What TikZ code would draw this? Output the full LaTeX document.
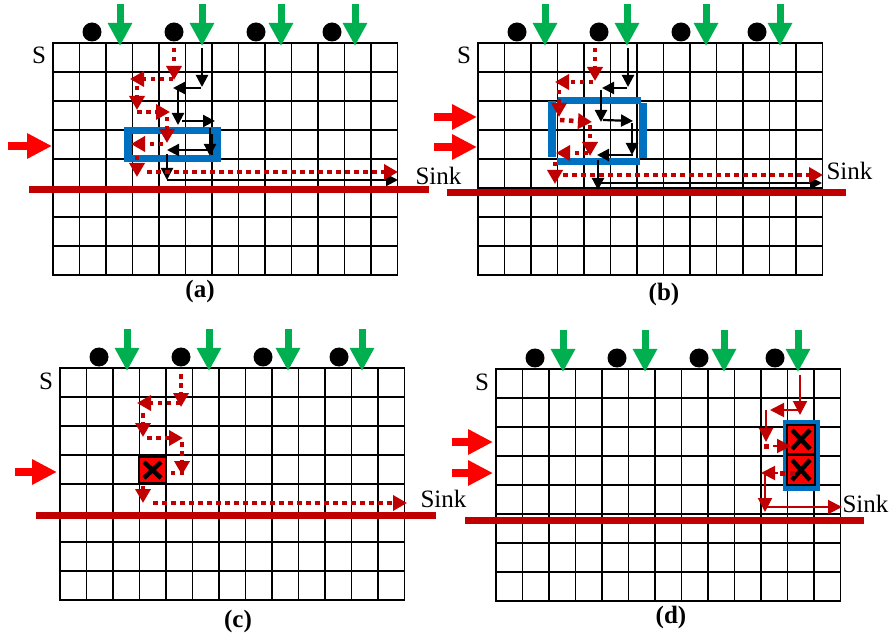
\documentclass[tikz,border=0pt]{standalone}
\usepackage{fontspec}
\setmainfont{Liberation Serif}
\usetikzlibrary{arrows.meta}

\definecolor{sinkred}{HTML}{C00000}
\definecolor{inred}{HTML}{FF0000}
\definecolor{tapgreen}{HTML}{00B050}
\definecolor{boxblue}{HTML}{0070C0}

\begin{document}
\begin{tikzpicture}[
  x=1pt, y=-1pt,
  font=\fontsize{25}{30}\selectfont,
  gridline/.style={line width=1.9pt, line cap=rect},
  sinkbar/.style={sinkred, line width=7pt},
  inarrow/.style={inred, line width=8pt, -{Triangle[width=24pt,length=25pt]}},
  tap/.style={tapgreen, line width=7pt, -{Triangle[width=23pt,length=23pt]}},
  route/.style={line width=2.2pt, -{Triangle[width=12pt,length=12pt]}},
  detour/.style={sinkred, line width=4.5pt, dash pattern=on 4.5pt off 4.5pt,
    -{Triangle[width=15pt,length=14pt]}},
  thinroute/.style={sinkred, line width=2pt, -{Triangle[width=14pt,length=14pt]}},
  blockbox/.style={boxblue, line width=7.5pt},
  fault/.style={fill=inred, draw=black, line width=1.5pt}
]
  \useasboundingbox (0,0) rectangle (889,636);

  % 四个面板的网格、端口与汇点线
  \foreach \gx/\gy in {53/43, 478/43, 60/368, 496/369} {
    \begin{scope}[shift={(\gx,\gy)}]
      \foreach \i in {0,...,13}
        \draw[gridline] ({26.5*\i},0) -- ({26.5*\i},232);
      \foreach \j in {0,...,8}
        \draw[gridline] (0,{29*\j}) -- (344.5,{29*\j});
      % 顶部端口
      \foreach \dx in {39,121,203,279}
        \fill (\dx,-11) circle[radius=9.5pt];
      \foreach \ax in {67,149,228,302}
        \draw[tap] (\ax,-39) -- (\ax,3);
      \node[anchor=base] at (-14,21) {S};
    \end{scope}
  }

  % 汇点线
  \draw[sinkbar] (29,190) -- (429,190);
  \draw[sinkbar] (447,193) -- (846,193);
  \draw[sinkbar] (36,515) -- (436,515);
  \draw[sinkbar] (465,520) -- (864,520);

  % 左侧输入
  \draw[inarrow] (8,146) -- (52,146);
  \draw[inarrow] (434,117) -- (477,117);
  \draw[inarrow] (434,147) -- (477,147);
  \draw[inarrow] (15,472) -- (57,472);
  \draw[inarrow] (452,442) -- (493,442);
  \draw[inarrow] (452,473) -- (493,473);

  % ---- (a) ----
  \draw[blockbox] (128,130.5) rectangle (217,158.5);
  % 黑色路径
  \draw[route] (202,48) -- (202,87);
  \draw[route] (201,88) -- (173,88);
  \draw[route] (178,90) -- (178,125);
  \draw[route] (182,121) -- (215,121);
  \draw[route] (210,128) -- (210,156);
  \draw[route] (210,150) -- (167,150);
  \draw[route] (167,154) -- (167,180);
  \draw[route] (167,180) -- (398,180);
  % 红色虚线路径
  \draw[detour] (174,48) -- (174,80);
  \draw[detour] (173,79) -- (130,79);
  \draw[detour] (137,86) -- (137,110);
  \draw[detour] (137,112) -- (170,112);
  \draw[detour] (167,117) -- (167,143);
  \draw[detour] (163,144) -- (131,144);
  \draw[detour] (137,156) -- (137,177);
  \draw[detour] (147,172) -- (398,172);
  \node[anchor=base west] (sinka) at (412,185) {Sink};
  \node[anchor=base, font=\fontsize{25}{30}\selectfont\bfseries] (capa) at (200,298) {(a)};

  % ---- (b) ----
  \draw[blockbox] (558,100.5) -- (641,100.5);
  \draw[blockbox] (552,101) -- (552,157);
  \draw[blockbox] (557,161.5) -- (640,161.5);
  \draw[blockbox] (643,103) -- (643,158);
  % 黑色路径
  \draw[route] (628,48) -- (628,87);
  \draw[route] (627,88) -- (602,88);
  \draw[route] (601,90) -- (601,122);
  \draw[route] (603,120) -- (633,121);
  \draw[route] (632,123) -- (632,155);
  \draw[route] (633,155) -- (597,155);
  \draw[route] (598,160) -- (598,190);
  \draw[route] (598,183) -- (822,183);
  % 红色虚线路径
  \draw[detour] (595,48) -- (595,81);
  \draw[detour] (593,82) -- (555,82);
  \draw[detour] (559,90) -- (559,117);
  \draw[detour] (560,120) -- (592,122);
  \draw[detour] (590,125) -- (590,156);
  \draw[detour] (588,153) -- (556,153);
  \draw[detour] (555,162) -- (555,184);
  \draw[detour] (563,175) -- (823,175);
  \node[anchor=base west] (sinkb) at (823,180) {Sink};
  \node[anchor=base, font=\fontsize{25}{30}\selectfont\bfseries] (capb) at (664,301) {(b)};

  % ---- (c) ----
  \draw[fault] (139,457) rectangle (166,483);
  \draw[line width=4.5pt] (144,462) -- (161,478) (161,462) -- (144,478);
  % 红色虚线路径
  \draw[detour] (181,374) -- (181,407);
  \draw[detour] (180,403) -- (137,403);
  \draw[detour] (143,413) -- (143,437);
  \draw[detour] (147,438) -- (183,438);
  \draw[detour] (182,442) -- (182,475);
  \draw[sinkred, line width=4.5pt, dash pattern=on 4.5pt off 4.5pt] (184,473) -- (166,473);
  \draw[detour] (143,486) -- (143,503);
  \draw[detour] (153,503) -- (407,503);
  \node[anchor=base west] (sinkc) at (417,507) {Sink};
  \node[anchor=base, font=\fontsize{25}{30}\selectfont\bfseries] (capc) at (238,627) {(c)};

  % ---- (d) ----
  \draw[boxblue, line width=5pt] (785,422) rectangle (817,488);
  \draw[fault] (787,425) rectangle (815,454);
  \draw[fault] (787,455) rectangle (815,485);
  \draw[line width=4.5pt] (792,430) -- (810,449) (810,430) -- (792,449);
  \draw[line width=4.5pt] (792,460) -- (810,480) (810,460) -- (792,480);
  % 红色细线路径
  \draw[thinroute] (800,375) -- (800,415);
  \draw[thinroute] (799,410) -- (770,410);
  \draw[thinroute] (766,410) -- (766,442);
  \fill[sinkred] (763.5,443.5) rectangle (768.5,448.5);
  \draw[thinroute] (773,446) -- (791,446);
  \fill[sinkred] (779.5,470.5) rectangle (784.5,475.5);
  \fill[sinkred] (789.5,470.5) rectangle (794.5,475.5);
  \draw[thinroute] (778,473) -- (761,473);
  \draw[thinroute] (765,475) -- (765,512);
  \draw[thinroute] (763,507) -- (842,507);
  \node[anchor=base west] (sinkd) at (839,512) {Sink};
  \node[anchor=base, font=\fontsize{25}{30}\selectfont\bfseries] (capd) at (671,623) {(d)};

\end{tikzpicture}
\end{document}
